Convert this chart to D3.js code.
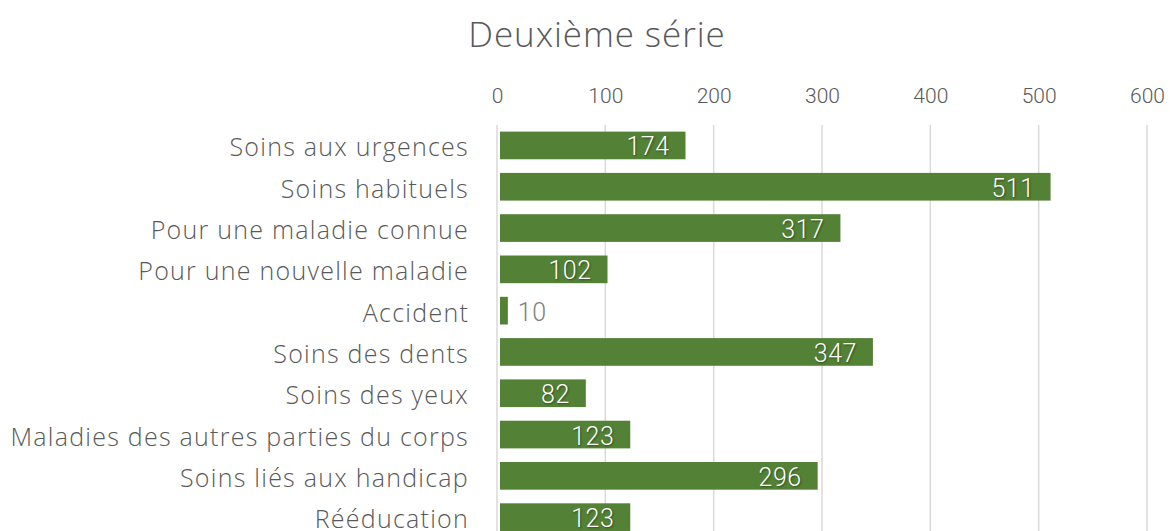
<!DOCTYPE html>
<html>
<head>
<meta charset="utf-8">
<script src="https://cdnjs.cloudflare.com/ajax/libs/d3/7.8.5/d3.min.js"></script>
<style>
  body { margin: 0; background: #fff; }
  text { font-family: "Open Sans", Roboto, sans-serif; }
</style>
</head>
<body>
<script>
var width = 1170;
var height = 531;

var categories = ["Soins aux urgences", "Soins habituels", "Pour une maladie connue",
  "Pour une nouvelle maladie", "Accident", "Soins des dents", "Soins des yeux",
  "Maladies des autres parties du corps", "Soins liés aux handicap", "Rééducation"];
var values = [174, 511, 317, 102, 10, 347, 82, 123, 296, 123];
var ticks = [0, 100, 200, 300, 400, 500, 600];

var svg = d3.select("body").append("svg")
  .attr("width", width)
  .attr("height", height);

// title
svg.append("text")
  .attr("x", 597).attr("y", 47)
  .attr("text-anchor", "middle")
  .attr("font-size", 35)
  .attr("font-weight", 300)
  .attr("letter-spacing", 0.9)
  .attr("fill", "#595959")
  .text("Deuxième série");

var x = d3.scaleLinear().domain([0, 600]).range([497, 1147]);
var y = d3.scaleBand().domain(categories).range([124.8, 124.8 + 41.3 * 10]).paddingInner(0.33).paddingOuter(0.165);

// grid lines
svg.selectAll("line.grid").data(ticks).enter().append("line")
  .attr("class", "grid")
  .attr("x1", d => x(d)).attr("x2", d => x(d))
  .attr("y1", 125).attr("y2", height)
  .attr("stroke", "#d9d9d9").attr("stroke-width", 1.5);

// top axis labels
var axis = svg.append("g")
  .attr("transform", "translate(0,84)")
  .call(d3.axisTop(x).tickValues(ticks).tickSize(0).tickPadding(0));
axis.select(".domain").remove();
axis.selectAll("text")
  .attr("font-size", 21)
  .attr("font-weight", 300)
  .attr("fill", "#595959")
  .attr("dy", "0.9em")
  .style("font-family", "Roboto, sans-serif");

// category labels
svg.selectAll("text.cat").data(categories).enter().append("text")
  .attr("class", "cat")
  .attr("x", 469)
  .attr("y", d => y(d) + y.bandwidth() / 2 + 2)
  .attr("dy", "0.36em")
  .attr("text-anchor", "end")
  .attr("font-size", 25)
  .attr("font-weight", 300)
  .attr("letter-spacing", 1.25)
  .attr("fill", "#595959")
  .text(d => d);

// bars
svg.selectAll("rect.bar").data(values).enter().append("rect")
  .attr("class", "bar")
  .attr("x", x(0) + 3)
  .attr("y", (d, i) => y(categories[i]))
  .attr("width", d => x(d) - x(0) - 3)
  .attr("height", y.bandwidth())
  .attr("fill", "#538135");

// value labels
svg.selectAll("text.val").data(values).enter().append("text")
  .attr("class", "val")
  .attr("x", d => d < 40 ? x(d) + 10 : x(d) - 16)
  .attr("y", (d, i) => y(categories[i]) + y.bandwidth() / 2 + 1)
  .attr("dy", "0.36em")
  .attr("text-anchor", d => d < 40 ? "start" : "end")
  .attr("font-size", 25)
  .attr("font-weight", 300)
  .attr("letter-spacing", 0.5)
  .attr("fill", d => d < 40 ? "#7f7f7f" : "#ffffff")
  .style("font-family", "Roboto, sans-serif")
  .style("text-shadow", d => d < 40 ? "none" : "1px 1px 2px rgba(0,0,0,0.4)")
  .text(d => d);
</script>
</body>
</html>
